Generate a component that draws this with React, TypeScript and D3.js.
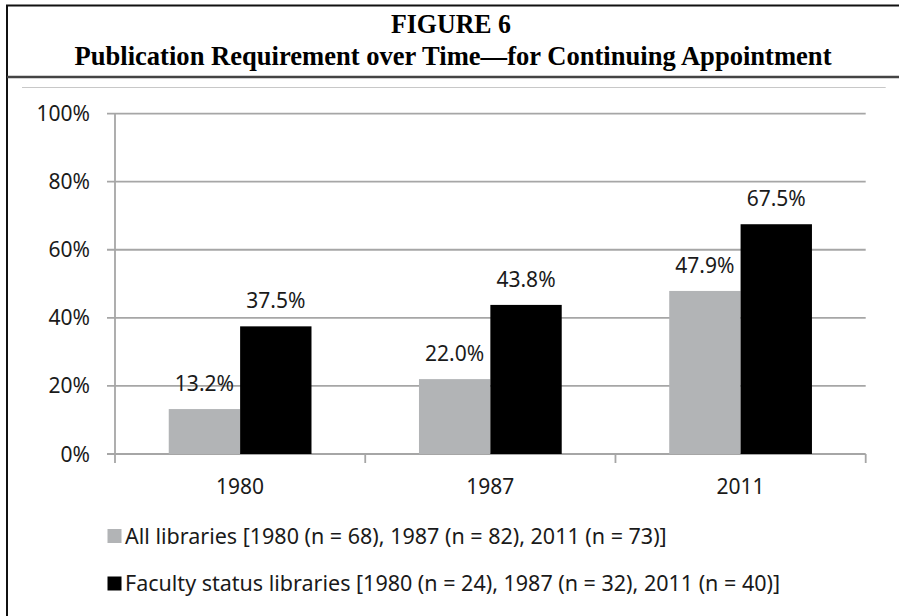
import * as d3 from "d3";
import { useEffect, useRef } from "react";

const years = ["1980", "1987", "2011"];
const allLibraries = [13.2, 22.0, 47.9];
const facultyStatus = [37.5, 43.8, 67.5];
const yTicks = [0, 20, 40, 60, 80, 100];
const seriesNames = [
	"All libraries [1980 (n = 68), 1987 (n = 82), 2011 (n = 73)]",
	"Faculty status libraries [1980 (n = 24), 1987 (n = 32), 2011 (n = 40)]",
];
const seriesColors = ["#b2b4b6", "#000000"];

const W = 899;
const H = 616;
const FONT = "'Noto Sans', sans-serif";

export default function App() {
	const ref = useRef<SVGSVGElement>(null);

	useEffect(() => {
		const svg = d3.select(ref.current);
		svg.selectAll("*").remove();

		const left = 115;
		const right = 865.7;
		const top = 113.6;
		const bottom = 454;

		// frame + title
		svg.append("path").attr("d", `M7,${H} L7,5.5 L${W},5.5`).attr("fill", "none").attr("stroke", "#111").attr("stroke-width", 2);
		svg.append("line").attr("x1", 7).attr("x2", W).attr("y1", 77).attr("y2", 77).attr("stroke", "#444").attr("stroke-width", 2.5);
		svg.append("line").attr("x1", 22).attr("x2", 885.7).attr("y1", 87.5).attr("y2", 87.5).attr("stroke", "#c8c8c8").attr("stroke-width", 1);

		svg.append("text").attr("x", 451).attr("y", 33).attr("text-anchor", "middle")
			.attr("font-family", "'Liberation Serif', 'Times New Roman', serif").attr("font-weight", "bold")
			.attr("font-size", 27).attr("textLength", 120).attr("lengthAdjust", "spacingAndGlyphs").text("FIGURE 6");
		svg.append("text").attr("x", 453).attr("y", 65).attr("text-anchor", "middle")
			.attr("font-family", "'Liberation Serif', 'Times New Roman', serif").attr("font-weight", "bold")
			.attr("font-size", 27).attr("textLength", 757).attr("lengthAdjust", "spacingAndGlyphs")
			.text("Publication Requirement over Time\u2014for Continuing Appointment");

		const x0 = d3.scaleBand().domain(years).range([left, right]).paddingInner(0).paddingOuter(0);
		const x1 = d3.scaleBand().domain(["a", "b"]).range([0, x0.bandwidth()]).paddingOuter(0.753).paddingInner(0);
		const y = d3.scaleLinear().domain([0, 100]).range([bottom, top]);

		const g = svg.append("g");

		// gridlines
		g.selectAll(".grid").data(yTicks).join("line")
			.attr("x1", left - 8).attr("x2", right)
			.attr("y1", d => y(d)).attr("y2", d => y(d))
			.attr("stroke", "#a6a6a6").attr("stroke-width", 1.8);

		// y axis line
		g.append("line").attr("x1", left).attr("x2", left).attr("y1", top).attr("y2", bottom + 9)
			.attr("stroke", "#a6a6a6").attr("stroke-width", 1.8);

		// category ticks
		const catTicks = [...years.map(d => x0(d) as number), right];
		g.selectAll(".ctick").data(catTicks.slice(1)).join("line")
			.attr("x1", d => d).attr("x2", d => d).attr("y1", bottom).attr("y2", bottom + 9)
			.attr("stroke", "#a6a6a6").attr("stroke-width", 1.8);

		// y labels
		g.selectAll(".ylab").data(yTicks).join("text")
			.attr("x", 90).attr("y", d => y(d)).attr("dy", "0.36em").attr("text-anchor", "end")
			.attr("font-family", FONT).attr("font-size", 21).attr("fill", "#1a1a1a")
			.text(d => `${d}%`);

		// x labels
		g.selectAll(".xlab").data(years).join("text")
			.attr("x", d => (x0(d) as number) + x0.bandwidth() / 2).attr("y", 494)
			.attr("text-anchor", "middle").attr("font-family", FONT).attr("font-size", 21).attr("fill", "#1a1a1a")
			.text(d => d);

		// bars
		const series = [allLibraries, facultyStatus];
		series.forEach((vals, si) => {
			const key = si === 0 ? "a" : "b";
			const grp = g.append("g");
			grp.selectAll("rect").data(vals).join("rect")
				.attr("x", (_, i) => (x0(years[i]) as number) + (x1(key) as number))
				.attr("y", d => y(d)).attr("width", x1.bandwidth()).attr("height", d => bottom - y(d))
				.attr("fill", seriesColors[si]);
			grp.selectAll("text").data(vals).join("text")
				.attr("x", (_, i) => (x0(years[i]) as number) + (x1(key) as number) + x1.bandwidth() / 2)
				.attr("y", d => y(d) - 18).attr("text-anchor", "middle")
				.attr("font-family", FONT).attr("font-size", 21).attr("fill", "#1a1a1a")
				.text(d => `${d.toFixed(1)}%`);
		});

		// legend
		const leg = svg.append("g");
		seriesNames.forEach((name, i) => {
			const cy = 536 + i * 47.5;
			leg.append("rect").attr("x", 107.5).attr("y", cy - 7).attr("width", 14).attr("height", 14).attr("fill", seriesColors[i]);
			leg.append("text").attr("x", 125).attr("y", cy).attr("dy", "0.36em")
				.attr("font-family", FONT).attr("font-size", 21.5).attr("fill", "#1a1a1a").text(name);
		});
	}, []);

	return <svg ref={ref} width={W} height={H} style={{ position: "absolute", left: 0, top: 0, background: "#fff" }} />;
}
